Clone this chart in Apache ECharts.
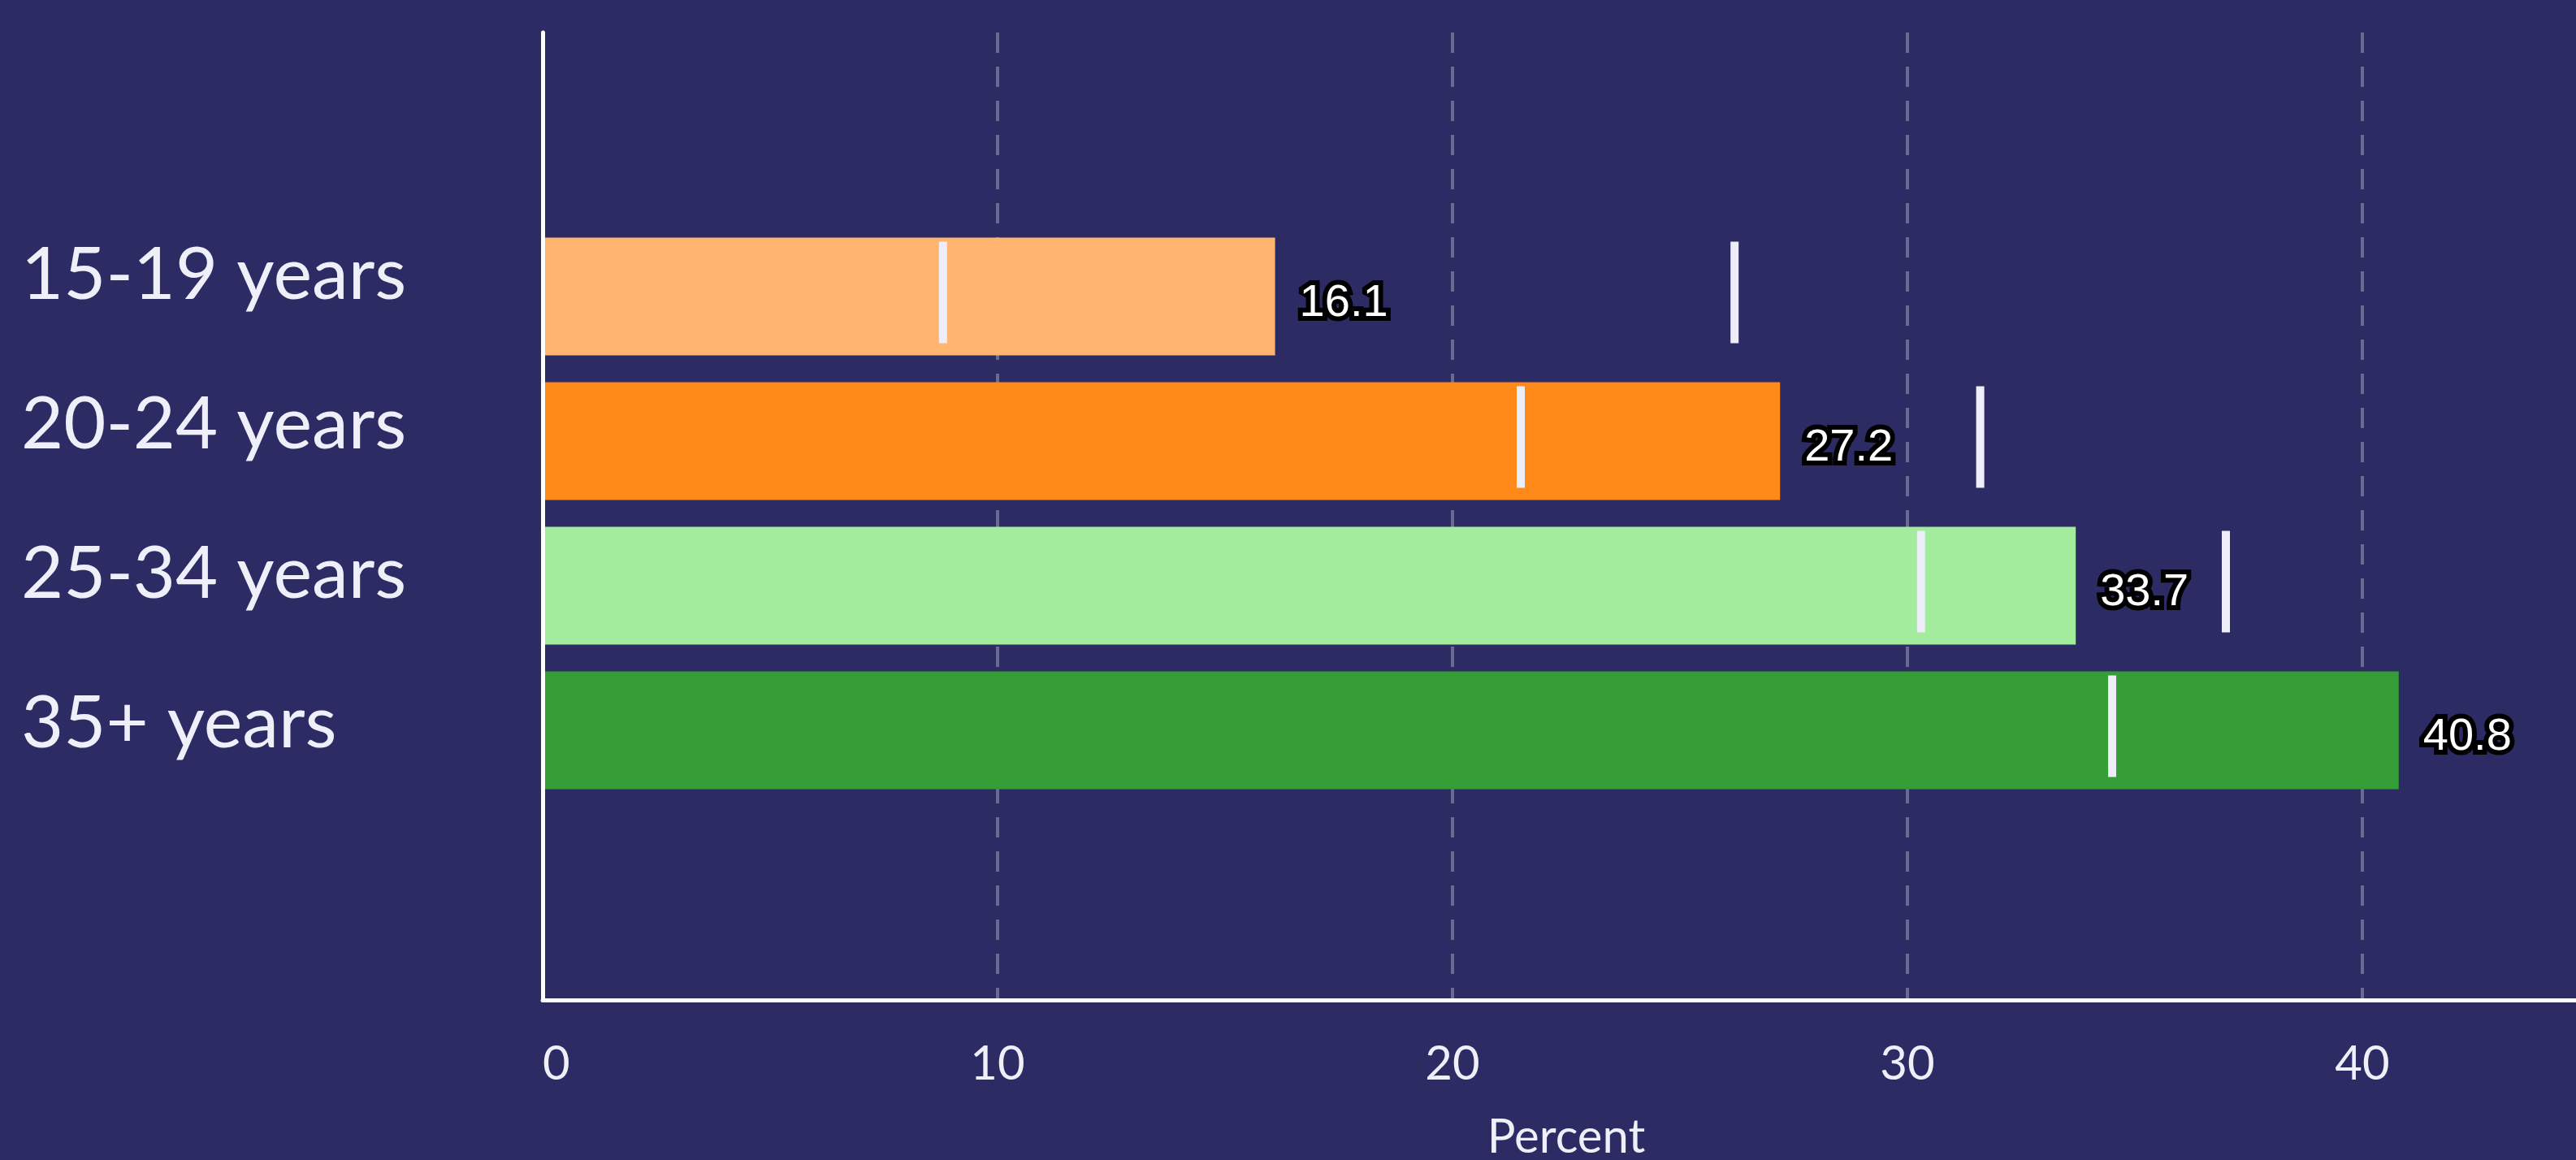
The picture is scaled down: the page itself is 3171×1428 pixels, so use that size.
<!DOCTYPE html>
<html>
<head>
<meta charset="utf-8">
<script src="https://cdn.jsdelivr.net/npm/echarts@6/dist/echarts.min.js"></script>
<style>
  html, body { margin: 0; padding: 0; background: #2c2b64; }
  #chart { width: 3171px; height: 1428px; }
</style>
</head>
<body>
<div id="chart"></div>
<script>
// Age groups and their shares (percent)
const categories = ['15-19 years', '20-24 years', '25-34 years', '35+ years'];
const shares = [16.1, 27.2, 33.7, 40.8];
// Reference marks drawn as thin white ticks on each row
const lowerMarks = [8.8, 21.5, 30.3, 34.5];
const upperMarks = [26.2, 31.6, 37.0, null];
const axisTitle = 'Percent';

const palette = ['#ffb56f', '#ff8a19', '#a3ec9e', '#349d35'];
const bg = '#2c2b64';
const textColor = '#efeffa';
const markColor = '#eeeefa';

const chart = echarts.init(document.getElementById('chart'), null, { renderer: 'canvas' });

const X_MIN = 0, X_MAX = 45;
const gridLeft = 668, gridRight = -17;

const hiddenAxis = {
  show: false
};

const option = {
  backgroundColor: bg,
  animation: false,
  grid: [
    // frame: axis lines, ticks and dashed grid
    { left: gridLeft, right: gridRight, top: 40, bottom: 197, outerBoundsMode: 'none', containLabel: false },
    // bars and marks
    { left: gridLeft, right: gridRight, top: 276, height: 712, outerBoundsMode: 'none', containLabel: false },
    // row labels
    { left: gridLeft, right: gridRight, top: 247, height: 736, outerBoundsMode: 'none', containLabel: false }
  ],
  xAxis: [
    {
      gridIndex: 0,
      type: 'value',
      min: X_MIN,
      max: X_MAX,
      interval: 10,
      name: axisTitle,
      nameLocation: 'middle',
      nameGap: 140,
      nameTextStyle: { color: textColor, fontSize: 58, fontFamily: 'Lato' },
      axisLine: { show: true, onZero: false, lineStyle: { color: '#ffffff', width: 5 } },
      axisTick: { show: false },
      axisLabel: {
        color: textColor,
        fontSize: 58,
        fontFamily: 'Lato',
        margin: 50,
        showMaxLabel: false,
        alignMinLabel: 'left'
      },
      splitLine: {
        show: true,
        showMinLine: false,
        showMaxLine: false,
        lineStyle: { color: 'rgba(255,255,255,0.3)', width: 4, type: [25, 17] }
      }
    },
    { gridIndex: 1, type: 'value', min: X_MIN, max: X_MAX, ...hiddenAxis },
    { gridIndex: 2, type: 'value', min: X_MIN, max: X_MAX, ...hiddenAxis }
  ],
  yAxis: [
    {
      gridIndex: 0,
      type: 'value',
      min: 0,
      max: 1,
      z: 5,
      axisLine: { show: true, onZero: false, lineStyle: { color: '#ffffff', width: 5 } },
      axisTick: { show: false },
      axisLabel: { show: false },
      splitLine: { show: false }
    },
    {
      gridIndex: 1,
      type: 'category',
      inverse: true,
      data: categories,
      axisLine: { show: false },
      axisTick: { show: false },
      axisLabel: { show: false },
      splitLine: { show: false }
    },
    {
      gridIndex: 2,
      type: 'category',
      inverse: true,
      data: categories,
      axisLine: { show: false },
      axisTick: { show: false },
      splitLine: { show: false },
      axisLabel: {
        color: textColor,
        fontSize: 90,
        fontFamily: 'Lato',
        align: 'left',
        margin: gridLeft - 26
      }
    }
  ],
  series: [
    {
      type: 'bar',
      xAxisIndex: 1,
      yAxisIndex: 1,
      barWidth: 145,
      data: shares.map((v, i) => ({ value: v, itemStyle: { color: palette[i] } })),
      label: {
        show: true,
        position: 'right',
        distance: 30,
        offset: [0, 9],
        formatter: (p) => p.value.toFixed(1),
        color: '#ffffff',
        fontSize: 56,
        fontFamily: 'Liberation Sans',
        textBorderColor: '#000000',
        textBorderWidth: 12
      },
      z: 2
    },
    {
      type: 'scatter',
      xAxisIndex: 1,
      yAxisIndex: 1,
      symbol: 'rect',
      symbolSize: [10, 125],
      symbolOffset: [0, -5],
      itemStyle: { color: markColor, opacity: 1 },
      data: lowerMarks.map((v, i) => [v, i]),
      z: 4
    },
    {
      type: 'scatter',
      xAxisIndex: 1,
      yAxisIndex: 1,
      symbol: 'rect',
      symbolSize: [10, 125],
      symbolOffset: [0, -5],
      itemStyle: { color: markColor, opacity: 1 },
      data: upperMarks.map((v, i) => (v == null ? null : [v, i])).filter((d) => d !== null),
      z: 4
    }
  ]
};

chart.setOption(option);
</script>
</body>
</html>
